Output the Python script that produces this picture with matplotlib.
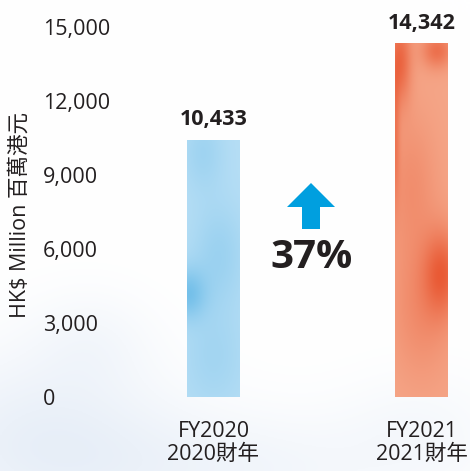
import numpy as np
import matplotlib
matplotlib.use("Agg")
import matplotlib.pyplot as plt
from matplotlib.colors import LinearSegmentedColormap
from matplotlib.patches import FancyArrow

# ---- data ----
categories = ["FY2020\n2020財年", "FY2021\n2021財年"]
values = [10433, 14342]
value_labels = ["10,433", "14,342"]
yticks = [0, 3000, 6000, 9000, 12000, 15000]
ytick_labels = ["0", "3,000", "6,000", "9,000", "12,000", "15,000"]
ylabel = "HK$ Million 百萬港元"

FAM = ["Open Sans", "Noto Sans CJK TC", "DejaVu Sans"]
TXT = "#231f20"

W, H = 470, 471
fig = plt.figure(figsize=(W / 100, H / 100), dpi=100)

# ---- faint watercolor background ----
bg = fig.add_axes([0, 0, 1, 1], zorder=0)
yy, xx = np.mgrid[0:H:2, 0:W:2]
def blob(cx, cy, sx, sy, a):
    return a * np.exp(-(((xx - cx) / sx) ** 2 + ((yy - cy) / sy) ** 2))
f = (blob(40, 440, 130, 90, 0.8) + blob(230, 470, 170, 60, 0.5)
     + blob(420, 430, 80, 60, 0.3) + blob(90, 340, 60, 50, 0.3))
f = np.clip(f, 0, 1)
base = np.array([1.0, 1.0, 1.0])
tint = np.array([0.90, 0.93, 0.97])
img = base[None, None, :] * (1 - f[..., None]) + tint[None, None, :] * f[..., None]
bg.imshow(img, extent=[0, 1, 0, 1], aspect="auto", origin="upper")
bg.set_axis_off()

# ---- main axes ----
left_px, right_px = 30, 470
y0_px, ytop_px = 397, 27
ax = fig.add_axes([left_px / W, (H - y0_px) / H, (right_px - left_px) / W,
                   (y0_px - ytop_px) / H], zorder=1)
ax.set_facecolor("none")
x = np.arange(len(values))
unit = 208.0

bar_colors = ["#a3d5f1", "#f28a69"]
bars = ax.bar(x, values, width=53 / unit, color=bar_colors, zorder=2)

# watercolour-like textures clipped to bars
def texture(c_light, c_dark, spots, n=(240, 60)):
    gy, gx = np.mgrid[0:1:complex(0, n[0]), 0:1:complex(0, n[1])]
    t = np.zeros_like(gx)
    for (cx, cy, sx, sy, a) in spots:
        t += a * np.exp(-(((gx - cx) / sx) ** 2 + ((gy - cy) / sy) ** 2))
    t = np.clip(t, 0, 1)
    cmap = LinearSegmentedColormap.from_list("w", [c_light, c_dark])
    return cmap(t)

tex = [
    texture("#b6def5", "#6cbce8",
            [(0.0, 0.40, 0.35, 0.10, 0.8), (0.6, 0.55, 0.5, 0.2, 0.35),
             (0.3, 0.95, 0.4, 0.15, 0.3), (0.5, 0.15, 0.6, 0.2, 0.25)]),
    texture("#f5a688", "#e95a35",
            [(0.1, 0.95, 0.2, 0.12, 0.8), (0.9, 0.35, 0.35, 0.12, 0.8),
             (0.5, 0.25, 0.6, 0.2, 0.35), (0.8, 0.98, 0.3, 0.05, 0.7),
             (0.3, 0.6, 0.5, 0.2, 0.3), (0.0, 0.75, 0.08, 0.2, 0.5)]),
]
for b, t in zip(bars, tex):
    bx, by = b.get_x(), b.get_y()
    im = ax.imshow(t, extent=[bx, bx + b.get_width(), by, by + b.get_height()],
                   origin="lower", aspect="auto", zorder=3,
                   interpolation="bilinear")
    im.set_clip_path(b)

ax.set_xlim((left_px - 213.5) / unit, (right_px - 213.5) / unit)
ax.set_ylim(0, 15000)

# value labels
for xi, v, lab in zip(x, values, value_labels):
    ax.annotate(lab, (xi, v), xytext=(0, 7), textcoords="offset points",
                ha="center", va="bottom", fontsize=15.5, fontweight="bold",
                color=TXT, family=FAM, zorder=5)

# y ticks, left aligned
ax.set_yticks(yticks)
ax.set_yticklabels(ytick_labels, family=FAM, fontsize=15.5, color=TXT)
for lbl in ax.get_yticklabels():
    lbl.set_ha("left")
ax.tick_params(axis="y", length=0, pad=-(43 - left_px) * 0.72)
ax.set_xticks([])
for s in ax.spines.values():
    s.set_visible(False)

# category labels
for xi, cat in zip(x, categories):
    ax.text(xi, -(421 - y0_px) / (y0_px - ytop_px) * 15000, cat, ha="center",
            va="top", fontsize=15.5, color=TXT, family=FAM, linespacing=1.15,
            clip_on=False)

# y label
fig.text(20 / W, 1 - 215 / H, ylabel, rotation=90, ha="center", va="center",
         fontsize=15.5, color=TXT, family=FAM)

# growth arrow + percentage
growth = values[1] / values[0] - 1
px2v = 15000 / (y0_px - ytop_px)
ax_x = (311 - 213.5) / unit
tail = (y0_px - 229) * px2v
tip = (y0_px - 183) * px2v
ax.add_patch(FancyArrow(ax_x, tail, 0, tip - tail, width=18 / unit,
                        head_width=48 / unit, head_length=24 * px2v,
                        length_includes_head=True, color="#009fdf",
                        linewidth=0, zorder=4))
ax.text((312 - 213.5) / unit, (y0_px - 258) * px2v, f"{growth:.0%}",
        ha="center", va="center", fontsize=29, fontweight="bold",
        color=TXT, family=FAM, zorder=5)

fig.savefig("out.png", dpi=100)
